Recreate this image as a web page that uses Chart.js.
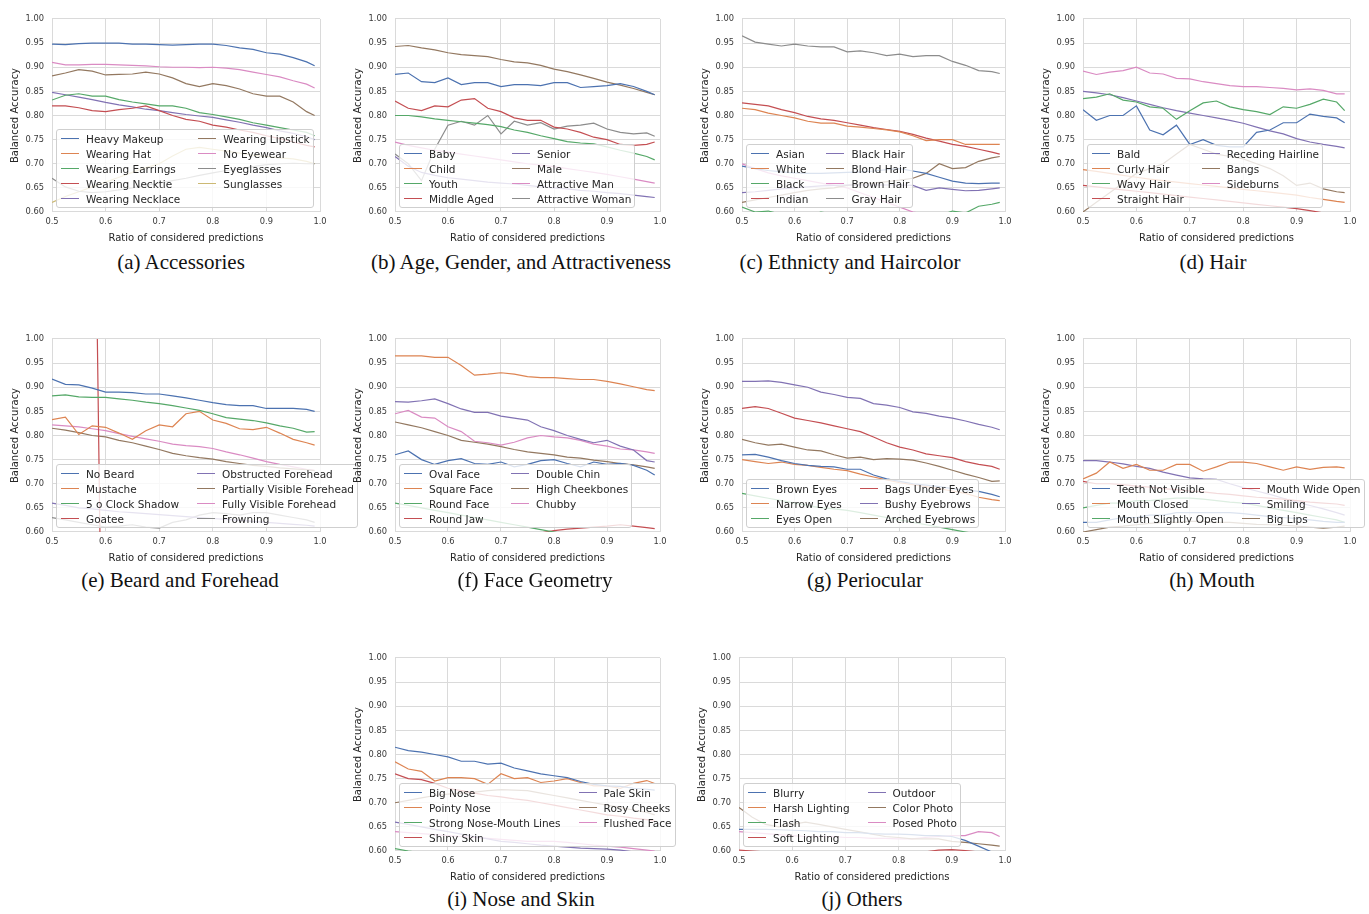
<!DOCTYPE html>
<html>
<head>
<meta charset="utf-8">
<script src="https://cdn.jsdelivr.net/npm/chart.js@4.4.1/dist/chart.umd.min.js"></script>
<style>
  body { margin: 0; background: #fff; width: 1369px; height: 914px; position: relative; overflow: hidden; font-family: "DejaVu Sans", sans-serif; }
  canvas.panel { position: absolute; }
  .legend { position: absolute; background: rgba(255,255,255,0.8); border: 1px solid #cfcfcf; border-radius: 3px;
            padding: 1px 3px 1px 4px; display: flex; gap: 18px; font-size: 10.5px; color: #262626; }
  .legend .col { display: flex; flex-direction: column; }
  .legend .item { display: flex; align-items: center; height: 15px; white-space: nowrap; }
  .legend .sw { width: 18px; height: 0; border-top: 1.5px solid; margin-right: 7px; }
  .cap { position: absolute; font-family: "Liberation Serif", serif; font-size: 21px; color: #111; transform: translateX(-50%); white-space: nowrap; }
</style>
</head>
<body>
<script>
// 横軸（予測の採用率）と目盛り
const xs = [0.5, 0.525, 0.55, 0.575, 0.6, 0.625, 0.65, 0.675, 0.7, 0.725, 0.75, 0.775, 0.8, 0.825, 0.85, 0.875, 0.9, 0.925, 0.95, 0.975, 0.99];
const xTicks = [0.5, 0.6, 0.7, 0.8, 0.9, 1.0];
const xTickLabels = ['0.5', '0.6', '0.7', '0.8', '0.9', '1.0'];
const yTicks = [0.60, 0.65, 0.70, 0.75, 0.80, 0.85, 0.90, 0.95, 1.00];
const yTickLabels = ['0.60', '0.65', '0.70', '0.75', '0.80', '0.85', '0.90', '0.95', '1.00'];

// (a) Accessories
const accLabels = ['Heavy Makeup', 'Wearing Hat', 'Wearing Earrings', 'Wearing Necktie', 'Wearing Necklace', 'Wearing Lipstick', 'No Eyewear', 'Eyeglasses', 'Sunglasses'];
const accValues = [
  [0.948,0.947,0.949,0.950,0.950,0.950,0.948,0.948,0.947,0.946,0.947,0.948,0.948,0.945,0.940,0.937,0.930,0.927,0.920,0.911,0.903],
  [0.590,0.588,0.585,0.583,0.580,0.578,0.576,0.575,0.573,0.571,0.570,0.568,0.566,0.564,0.562,0.560,0.558,0.556,0.554,0.552,0.550],
  [0.832,0.842,0.845,0.840,0.840,0.833,0.828,0.824,0.820,0.820,0.815,0.806,0.802,0.797,0.792,0.785,0.780,0.775,0.770,0.765,0.758],
  [0.820,0.820,0.816,0.810,0.808,0.812,0.815,0.820,0.810,0.800,0.792,0.788,0.780,0.776,0.770,0.765,0.758,0.752,0.745,0.738,0.735],
  [0.848,0.843,0.838,0.833,0.827,0.822,0.818,0.813,0.810,0.806,0.802,0.799,0.796,0.791,0.786,0.780,0.775,0.768,0.763,0.756,0.750],
  [0.882,0.888,0.895,0.892,0.884,0.885,0.886,0.890,0.886,0.878,0.866,0.860,0.866,0.862,0.855,0.845,0.840,0.840,0.828,0.808,0.800],
  [0.910,0.905,0.905,0.906,0.906,0.905,0.904,0.903,0.901,0.900,0.900,0.899,0.900,0.898,0.895,0.890,0.885,0.880,0.872,0.865,0.857],
  [0.670,0.652,0.643,0.640,0.642,0.646,0.650,0.655,0.660,0.665,0.670,0.676,0.681,0.686,0.690,0.694,0.698,0.700,0.701,0.700,0.700],
  [0.620,0.632,0.642,0.652,0.662,0.672,0.682,0.692,0.700,0.716,0.730,0.734,0.730,0.726,0.722,0.718,0.715,0.712,0.710,0.705,0.700]
];

// (b) Age, Gender, and Attractiveness
const ageLabels = ['Baby', 'Child', 'Youth', 'Middle Aged', 'Senior', 'Male', 'Attractive Man', 'Attractive Woman'];
const ageValues = [
  [0.885,0.888,0.870,0.868,0.878,0.864,0.868,0.868,0.860,0.864,0.864,0.862,0.868,0.868,0.858,0.860,0.862,0.866,0.860,0.850,0.843],
  [0.580,0.582,0.585,0.584,0.582,0.580,0.578,0.576,0.575,0.573,0.571,0.570,0.568,0.566,0.565,0.563,0.561,0.560,0.558,0.556,0.555],
  [0.800,0.800,0.797,0.793,0.790,0.787,0.784,0.781,0.777,0.770,0.765,0.758,0.752,0.746,0.743,0.741,0.735,0.728,0.722,0.715,0.708],
  [0.830,0.815,0.810,0.820,0.818,0.832,0.835,0.815,0.808,0.795,0.790,0.790,0.776,0.772,0.765,0.755,0.750,0.740,0.738,0.740,0.745],
  [0.715,0.695,0.682,0.676,0.671,0.668,0.665,0.662,0.660,0.658,0.655,0.652,0.650,0.648,0.645,0.643,0.640,0.638,0.635,0.632,0.630],
  [0.943,0.945,0.940,0.936,0.930,0.926,0.924,0.922,0.916,0.911,0.909,0.904,0.896,0.891,0.884,0.877,0.869,0.863,0.856,0.848,0.843],
  [0.745,0.738,0.733,0.728,0.724,0.720,0.716,0.712,0.708,0.704,0.700,0.697,0.694,0.690,0.686,0.682,0.678,0.673,0.668,0.663,0.660],
  [0.720,0.700,0.665,0.730,0.780,0.788,0.780,0.800,0.762,0.788,0.780,0.785,0.772,0.778,0.780,0.784,0.772,0.765,0.762,0.764,0.757]
];

// (c) Ethnicty and Haircolor
const ethLabels = ['Asian', 'White', 'Black', 'Indian', 'Black Hair', 'Blond Hair', 'Brown Hair', 'Gray Hair'];
const ethValues = [
  [0.695,0.690,0.686,0.683,0.681,0.680,0.680,0.681,0.682,0.683,0.685,0.688,0.690,0.685,0.680,0.672,0.664,0.660,0.659,0.660,0.660],
  [0.815,0.812,0.805,0.800,0.795,0.788,0.784,0.784,0.778,0.776,0.773,0.770,0.766,0.758,0.748,0.750,0.750,0.740,0.740,0.740,0.740],
  [0.610,0.600,0.602,0.595,0.592,0.590,0.600,0.595,0.592,0.590,0.585,0.582,0.585,0.588,0.590,0.592,0.602,0.598,0.612,0.616,0.620],
  [0.826,0.823,0.820,0.812,0.806,0.798,0.793,0.790,0.785,0.780,0.775,0.771,0.767,0.761,0.753,0.747,0.740,0.736,0.730,0.724,0.720],
  [0.640,0.642,0.645,0.648,0.650,0.652,0.654,0.655,0.656,0.656,0.656,0.656,0.656,0.655,0.645,0.650,0.647,0.644,0.645,0.648,0.650],
  [0.620,0.625,0.630,0.635,0.640,0.645,0.648,0.650,0.655,0.658,0.660,0.663,0.666,0.670,0.680,0.700,0.690,0.692,0.705,0.712,0.715],
  [0.700,0.690,0.681,0.675,0.670,0.665,0.660,0.655,0.650,0.640,0.630,0.620,0.610,0.600,0.595,0.590,0.585,0.582,0.580,0.580,0.580],
  [0.965,0.952,0.948,0.944,0.948,0.944,0.942,0.942,0.932,0.934,0.930,0.924,0.927,0.922,0.924,0.924,0.912,0.904,0.893,0.891,0.887]
];

// (d) Hair
const hairLabels = ['Bald', 'Curly Hair', 'Wavy Hair', 'Straight Hair', 'Receding Hairline', 'Bangs', 'Sideburns'];
const hairValues = [
  [0.812,0.790,0.800,0.800,0.820,0.770,0.760,0.780,0.740,0.750,0.738,0.735,0.735,0.765,0.770,0.785,0.785,0.803,0.798,0.795,0.785],
  [0.688,0.684,0.680,0.676,0.672,0.668,0.665,0.662,0.659,0.656,0.653,0.650,0.647,0.644,0.641,0.638,0.635,0.630,0.626,0.622,0.620],
  [0.835,0.838,0.845,0.832,0.828,0.818,0.815,0.792,0.810,0.826,0.830,0.818,0.812,0.808,0.802,0.818,0.815,0.823,0.834,0.828,0.810],
  [0.655,0.652,0.649,0.646,0.643,0.640,0.637,0.634,0.631,0.628,0.625,0.622,0.619,0.616,0.613,0.610,0.607,0.603,0.598,0.594,0.590],
  [0.850,0.847,0.843,0.837,0.830,0.823,0.816,0.810,0.805,0.800,0.795,0.790,0.784,0.776,0.768,0.762,0.752,0.745,0.740,0.736,0.733],
  [0.600,0.620,0.640,0.660,0.680,0.690,0.700,0.720,0.740,0.730,0.720,0.715,0.710,0.700,0.690,0.675,0.655,0.660,0.648,0.642,0.640],
  [0.892,0.885,0.890,0.893,0.900,0.888,0.886,0.877,0.876,0.870,0.866,0.862,0.860,0.860,0.858,0.856,0.853,0.855,0.852,0.845,0.845]
];

// (e) Beard and Forehead（Goatee だけ別の x 列）
const beardLabels = ['No Beard', 'Mustache', '5 o Clock Shadow', 'Goatee', 'Obstructed Forehead', 'Partially Visible Forehead', 'Fully Visible Forehead', 'Frowning'];
const goateeXs = [0.584, 0.59, 0.65, 0.75, 0.85, 0.95, 0.99];
const beardValues = [
  [0.917,0.906,0.905,0.898,0.890,0.890,0.889,0.886,0.886,0.882,0.878,0.873,0.868,0.864,0.862,0.862,0.856,0.856,0.856,0.854,0.850],
  [0.833,0.838,0.802,0.820,0.817,0.805,0.792,0.810,0.822,0.818,0.845,0.850,0.832,0.825,0.814,0.812,0.817,0.805,0.792,0.785,0.780],
  [0.882,0.884,0.880,0.879,0.879,0.876,0.873,0.869,0.866,0.862,0.857,0.852,0.845,0.837,0.834,0.831,0.826,0.820,0.815,0.807,0.808],
  [1.050,0.550,0.560,0.570,0.570,0.560,0.560],
  [0.660,0.655,0.650,0.648,0.645,0.642,0.640,0.638,0.636,0.634,0.632,0.630,0.628,0.626,0.624,0.622,0.620,0.618,0.616,0.614,0.612],
  [0.815,0.811,0.806,0.800,0.797,0.790,0.785,0.778,0.771,0.763,0.758,0.754,0.751,0.746,0.742,0.738,0.736,0.733,0.731,0.729,0.727],
  [0.822,0.820,0.818,0.814,0.810,0.804,0.798,0.793,0.788,0.782,0.779,0.777,0.773,0.766,0.760,0.753,0.746,0.740,0.735,0.730,0.728],
  [0.630,0.625,0.620,0.615,0.610,0.612,0.615,0.610,0.608,0.620,0.625,0.635,0.640,0.638,0.635,0.640,0.640,0.635,0.630,0.625,0.620]
];

// (f) Face Geometry
const faceLabels = ['Oval Face', 'Square Face', 'Round Face', 'Round Jaw', 'Double Chin', 'High Cheekbones', 'Chubby'];
const faceValues = [
  [0.760,0.768,0.750,0.740,0.748,0.752,0.742,0.740,0.745,0.735,0.740,0.748,0.750,0.742,0.735,0.745,0.740,0.742,0.738,0.728,0.718],
  [0.965,0.965,0.965,0.962,0.962,0.945,0.925,0.927,0.930,0.927,0.922,0.920,0.920,0.918,0.916,0.916,0.912,0.907,0.901,0.895,0.893],
  [0.660,0.655,0.650,0.645,0.640,0.635,0.630,0.625,0.620,0.615,0.610,0.605,0.600,0.595,0.590,0.585,0.582,0.580,0.580,0.580,0.580],
  [0.550,0.552,0.556,0.560,0.566,0.570,0.575,0.580,0.585,0.590,0.594,0.598,0.603,0.606,0.608,0.610,0.612,0.615,0.612,0.609,0.607],
  [0.870,0.869,0.872,0.876,0.866,0.855,0.848,0.848,0.840,0.836,0.832,0.818,0.810,0.800,0.792,0.785,0.790,0.778,0.770,0.748,0.745],
  [0.828,0.822,0.816,0.808,0.800,0.790,0.786,0.782,0.777,0.771,0.766,0.763,0.760,0.755,0.753,0.749,0.746,0.742,0.739,0.735,0.732],
  [0.845,0.852,0.838,0.836,0.818,0.808,0.788,0.785,0.780,0.786,0.795,0.800,0.797,0.795,0.790,0.782,0.778,0.772,0.770,0.766,0.763]
];

// (g) Periocular
const eyeLabels = ['Brown Eyes', 'Narrow Eyes', 'Eyes Open', 'Bags Under Eyes', 'Bushy Eyebrows', 'Arched Eyebrows'];
const eyeValues = [
  [0.760,0.761,0.755,0.748,0.742,0.738,0.736,0.735,0.730,0.730,0.718,0.710,0.705,0.700,0.697,0.694,0.690,0.687,0.684,0.678,0.673],
  [0.750,0.746,0.742,0.745,0.740,0.738,0.734,0.730,0.727,0.720,0.714,0.708,0.702,0.698,0.694,0.690,0.685,0.680,0.672,0.667,0.665],
  [0.680,0.675,0.670,0.665,0.660,0.655,0.650,0.648,0.645,0.640,0.635,0.630,0.625,0.620,0.615,0.610,0.605,0.600,0.595,0.590,0.585],
  [0.856,0.860,0.856,0.846,0.836,0.831,0.826,0.820,0.814,0.808,0.797,0.785,0.776,0.770,0.762,0.758,0.754,0.746,0.740,0.736,0.730],
  [0.912,0.912,0.913,0.910,0.905,0.900,0.890,0.885,0.879,0.877,0.866,0.863,0.858,0.849,0.846,0.840,0.836,0.830,0.823,0.817,0.812],
  [0.792,0.785,0.780,0.782,0.776,0.770,0.768,0.760,0.753,0.755,0.750,0.752,0.751,0.749,0.743,0.736,0.728,0.720,0.713,0.705,0.706]
];

// (h) Mouth
const mouthLabels = ['Teeth Not Visible', 'Mouth Closed', 'Mouth Slightly Open', 'Mouth Wide Open', 'Smiling', 'Big Lips'];
const mouthValues = [
  [0.620,0.620,0.625,0.630,0.630,0.635,0.635,0.640,0.640,0.640,0.640,0.640,0.638,0.635,0.632,0.630,0.628,0.625,0.622,0.620,0.620],
  [0.710,0.722,0.745,0.732,0.740,0.728,0.728,0.740,0.740,0.726,0.735,0.745,0.745,0.742,0.735,0.728,0.735,0.730,0.734,0.735,0.733],
  [0.650,0.655,0.660,0.660,0.665,0.665,0.668,0.670,0.670,0.668,0.665,0.662,0.660,0.655,0.650,0.645,0.640,0.635,0.630,0.625,0.620],
  [0.705,0.700,0.700,0.698,0.695,0.693,0.690,0.688,0.685,0.683,0.680,0.678,0.675,0.672,0.670,0.668,0.665,0.662,0.660,0.658,0.655],
  [0.748,0.748,0.745,0.741,0.736,0.732,0.724,0.718,0.712,0.710,0.709,0.700,0.692,0.685,0.678,0.670,0.662,0.655,0.648,0.640,0.635],
  [0.600,0.605,0.610,0.612,0.615,0.618,0.620,0.620,0.622,0.622,0.620,0.620,0.618,0.616,0.615,0.614,0.612,0.610,0.608,0.610,0.612]
];

// (i) Nose and Skin
const noseLabels = ['Big Nose', 'Pointy Nose', 'Strong Nose-Mouth Lines', 'Shiny Skin', 'Pale Skin', 'Rosy Cheeks', 'Flushed Face'];
const noseValues = [
  [0.815,0.808,0.805,0.800,0.795,0.786,0.786,0.780,0.782,0.772,0.766,0.760,0.756,0.752,0.744,0.738,0.735,0.734,0.730,0.728,0.726],
  [0.785,0.770,0.765,0.745,0.752,0.752,0.750,0.738,0.760,0.750,0.752,0.742,0.745,0.750,0.742,0.735,0.735,0.730,0.740,0.746,0.740],
  [0.605,0.600,0.596,0.592,0.590,0.588,0.586,0.584,0.582,0.580,0.578,0.576,0.575,0.574,0.572,0.570,0.568,0.566,0.565,0.564,0.562],
  [0.760,0.750,0.748,0.740,0.730,0.725,0.720,0.715,0.712,0.708,0.705,0.700,0.695,0.690,0.685,0.680,0.675,0.672,0.668,0.665,0.662],
  [0.660,0.655,0.650,0.645,0.640,0.635,0.630,0.625,0.620,0.618,0.615,0.612,0.610,0.608,0.606,0.605,0.604,0.602,0.598,0.595,0.590],
  [0.700,0.705,0.710,0.715,0.718,0.720,0.722,0.725,0.727,0.726,0.725,0.720,0.715,0.710,0.705,0.700,0.695,0.690,0.685,0.680,0.675],
  [0.640,0.638,0.636,0.634,0.632,0.630,0.628,0.626,0.624,0.622,0.620,0.620,0.620,0.618,0.615,0.612,0.610,0.608,0.605,0.602,0.600]
];

// (j) Others
const otherLabels = ['Blurry', 'Harsh Lighting', 'Flash', 'Soft Lighting', 'Outdoor', 'Color Photo', 'Posed Photo'];
const otherValues = [
  [0.645,0.645,0.645,0.644,0.643,0.642,0.640,0.640,0.638,0.638,0.636,0.635,0.635,0.634,0.632,0.632,0.630,0.622,0.610,0.598,0.595],
  [0.590,0.588,0.586,0.584,0.582,0.580,0.578,0.576,0.574,0.572,0.570,0.568,0.566,0.564,0.562,0.560,0.558,0.556,0.554,0.552,0.550],
  [0.580,0.578,0.576,0.574,0.572,0.570,0.568,0.566,0.564,0.562,0.560,0.558,0.556,0.554,0.552,0.550,0.548,0.546,0.544,0.542,0.540],
  [0.602,0.600,0.598,0.596,0.595,0.595,0.595,0.595,0.595,0.595,0.595,0.595,0.595,0.595,0.598,0.602,0.603,0.601,0.598,0.596,0.595],
  [0.598,0.596,0.594,0.592,0.590,0.590,0.588,0.588,0.586,0.586,0.585,0.585,0.584,0.584,0.583,0.583,0.582,0.582,0.581,0.580,0.580],
  [0.690,0.670,0.655,0.650,0.655,0.660,0.655,0.650,0.645,0.640,0.635,0.630,0.628,0.625,0.625,0.625,0.620,0.618,0.615,0.612,0.610],
  [0.640,0.638,0.636,0.634,0.632,0.630,0.630,0.630,0.628,0.628,0.626,0.626,0.625,0.625,0.628,0.630,0.632,0.632,0.640,0.638,0.630]
];

// seaborn deep 相当の配色
const palette = ['#4C72B0', '#DD8452', '#55A868', '#C44E52', '#8172B3', '#937860', '#DA8BC3', '#8C8C8C', '#CCB974', '#64B5CD'];
const gridColor = '#dadada';
const fontFamily = '"DejaVu Sans", sans-serif';

// パネル配置（描画領域の左右上下）
const panels = [
  { cap: '(a) Accessories', labels: accLabels, values: accValues, L: 52, R: 320, T: 14, B: 212, cx: 181, cy: 262 },
  { cap: '(b) Age, Gender, and Attractiveness', labels: ageLabels, values: ageValues, L: 395, R: 660, T: 14, B: 212, cx: 521, cy: 262 },
  { cap: '(c) Ethnicty and Haircolor', labels: ethLabels, values: ethValues, L: 742, R: 1005, T: 14, B: 212, cx: 850, cy: 262 },
  { cap: '(d) Hair', labels: hairLabels, values: hairValues, L: 1083, R: 1350, T: 14, B: 212, cx: 1213, cy: 262 },
  { cap: '(e) Beard and Forehead', labels: beardLabels, values: beardValues, L: 52, R: 320, T: 334, B: 532, cx: 180, cy: 580, xsFor: { 3: goateeXs } },
  { cap: '(f) Face Geometry', labels: faceLabels, values: faceValues, L: 395, R: 660, T: 334, B: 532, cx: 535, cy: 580 },
  { cap: '(g) Periocular', labels: eyeLabels, values: eyeValues, L: 742, R: 1005, T: 334, B: 532, cx: 865, cy: 580 },
  { cap: '(h) Mouth', labels: mouthLabels, values: mouthValues, L: 1083, R: 1350, T: 334, B: 532, cx: 1212, cy: 580 },
  { cap: '(i) Nose and Skin', labels: noseLabels, values: noseValues, L: 395, R: 660, T: 653, B: 851, cx: 521, cy: 899 },
  { cap: '(j) Others', labels: otherLabels, values: otherValues, L: 739, R: 1005, T: 653, B: 851, cx: 862, cy: 899 }
];

function addPanel(p) {
  const cv = document.createElement('canvas');
  cv.className = 'panel';
  cv.width = p.R - p.L + 66;
  cv.height = p.B - p.T + 44;
  cv.style.left = (p.L - 52) + 'px';
  cv.style.top = (p.T - 8) + 'px';
  document.body.appendChild(cv);

  const datasets = p.labels.map((lab, i) => {
    const px = (p.xsFor && p.xsFor[i]) ? p.xsFor[i] : xs;
    return {
      label: lab,
      data: px.map((x, k) => ({ x: x, y: p.values[i][k] })),
      borderColor: palette[i],
      borderWidth: 1.2,
      pointRadius: 0,
      fill: false
    };
  });

  new Chart(cv.getContext('2d'), {
    type: 'line',
    data: { datasets: datasets },
    options: {
      responsive: false,
      animation: false,
      devicePixelRatio: 1,
      layout: { padding: { left: 0, top: 8, right: 14, bottom: 0 } },
      plugins: { legend: { display: false }, tooltip: { enabled: false } },
      scales: {
        x: {
          type: 'linear', min: 0.5, max: 1.0,
          afterBuildTicks: s => { s.ticks = xTicks.map(v => ({ value: v })); },
          afterFit: s => { s.height = 36; },
          grid: { color: gridColor, drawTicks: false },
          border: { color: gridColor },
          ticks: { padding: 5, color: '#3a3a3a', autoSkip: false, maxRotation: 0,
                   font: { size: 8.3, family: fontFamily }, callback: (v, i) => xTickLabels[i] },
          title: { display: true, text: 'Ratio of considered predictions', color: '#262626',
                   font: { size: 10, family: fontFamily }, padding: { top: 0, bottom: 4 } }
        },
        y: {
          type: 'linear', min: 0.6, max: 1.0,
          afterBuildTicks: s => { s.ticks = yTicks.map(v => ({ value: v })); },
          afterFit: s => { s.width = 52; },
          grid: { color: gridColor, drawTicks: false },
          border: { color: gridColor },
          ticks: { padding: 8, color: '#3a3a3a', autoSkip: false,
                   font: { size: 8.3, family: fontFamily }, callback: (v, i) => yTickLabels[i] },
          title: { display: true, text: 'Balanced Accuracy', color: '#262626',
                   font: { size: 10, family: fontFamily }, padding: { top: 9, bottom: 0 } }
        }
      }
    }
  });

  // 凡例（グラフ内左下、半透明の白い箱）
  const lg = document.createElement('div');
  lg.className = 'legend';
  lg.style.left = (p.L + 4) + 'px';
  lg.style.bottom = (914 - (p.B - 4)) + 'px';
  const half = Math.ceil(p.labels.length / 2);
  [p.labels.slice(0, half), p.labels.slice(half)].forEach((part, c) => {
    const col = document.createElement('div');
    col.className = 'col';
    part.forEach((lab, j) => {
      const idx = c * half + j;
      const it = document.createElement('div');
      it.className = 'item';
      const sw = document.createElement('span');
      sw.className = 'sw';
      sw.style.borderTopColor = palette[idx];
      const tx = document.createElement('span');
      tx.textContent = lab;
      it.appendChild(sw);
      it.appendChild(tx);
      col.appendChild(it);
    });
    lg.appendChild(col);
  });
  document.body.appendChild(lg);

  // キャプション
  const cap = document.createElement('div');
  cap.className = 'cap';
  cap.textContent = p.cap;
  cap.style.left = p.cx + 'px';
  cap.style.top = (p.cy - 12) + 'px';
  document.body.appendChild(cap);
}

panels.forEach(addPanel);
</script>
</body>
</html>
